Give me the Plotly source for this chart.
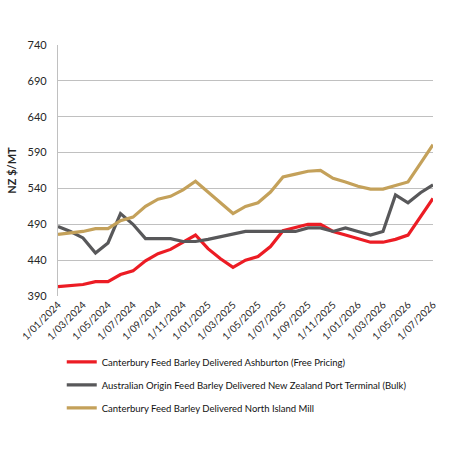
import plotly.graph_objects as go

months = ["1/%02d/%d" % (m, y) for y in (2024, 2025, 2026) for m in range(1, 13)][:31]
tick_labels = months[::2]

red_name = "Canterbury Feed Barley Delivered Ashburton (Free Pricing)"
gray_name = "Australian Origin Feed Barley Delivered New Zealand Port Terminal (Bulk)"
gold_name = "Canterbury Feed Barley Delivered North Island Mill"

red_vals = [403, 404, 406, 410, 410, 420, 425, 439, 449, 455, 465, 475, 456, 442, 430,
            440, 445, 459, 481, 485, 490, 490, 480, 475, 470, 465, 465, 469, 475, 500, 526]
gray_vals = [487, 480, 471, 450, 464, 505, 490, 470, 470, 470, 466, 466, 469, 473, 476,
             480, 480, 480, 480, 480, 485, 485, 480, 485, 480, 475, 480, 531, 520, 534, 545]
gold_vals = [476, 478, 480, 484, 484, 495, 500, 515, 525, 529, 538, 550, 535, 520, 505,
             515, 520, 535, 556, 560, 564, 565, 554, 549, 543, 539, 539, 544, 549, 575, 601]

colors = {"red": "#ec1c24", "gray": "#58585a", "gold": "#c4a15a"}

fig = go.Figure()
for name, vals, col in [(red_name, red_vals, colors["red"]),
                        (gray_name, gray_vals, colors["gray"]),
                        (gold_name, gold_vals, colors["gold"])]:
    fig.add_trace(go.Scatter(x=months, y=vals, mode="lines", name=name,
                             legendgroup=name,
                             line=dict(color=col, width=3.2)))

fig.update_layout(
    width=450, height=450,
    margin=dict(l=56, r=14, t=45, b=154),
    paper_bgcolor="white", plot_bgcolor="white",
    font=dict(family="Lato, Open Sans, sans-serif", color="#262626"),
    showlegend=True,
    legend=dict(x=0.01, y=-0.205, xanchor="left", yanchor="top",
                font=dict(size=9.5, color="#111111"),
                tracegroupgap=4, itemwidth=30, bgcolor="rgba(0,0,0,0)"),
    xaxis=dict(type="category", range=[0, 30], tickmode="array",
               tickvals=tick_labels, ticktext=tick_labels,
               tickangle=-45, tickfont=dict(size=10, color="#262626"),
               showgrid=False, showline=False, zeroline=False, ticks=""),
    yaxis=dict(range=[390, 740], tickvals=list(range(390, 741, 50)),
               showgrid=True, gridcolor="#c0c0c0", gridwidth=1.3,
               showline=True, linecolor="#c0c0c0", linewidth=1.3,
               zeroline=False, ticks="", ticklabelstandoff=8,
               tickfont=dict(size=11, color="#262626"),
               title=dict(text="<b>NZ $/MT</b>", font=dict(size=11, color="#262626"),
                          standoff=8)),
)

fig.write_html("out.html")
